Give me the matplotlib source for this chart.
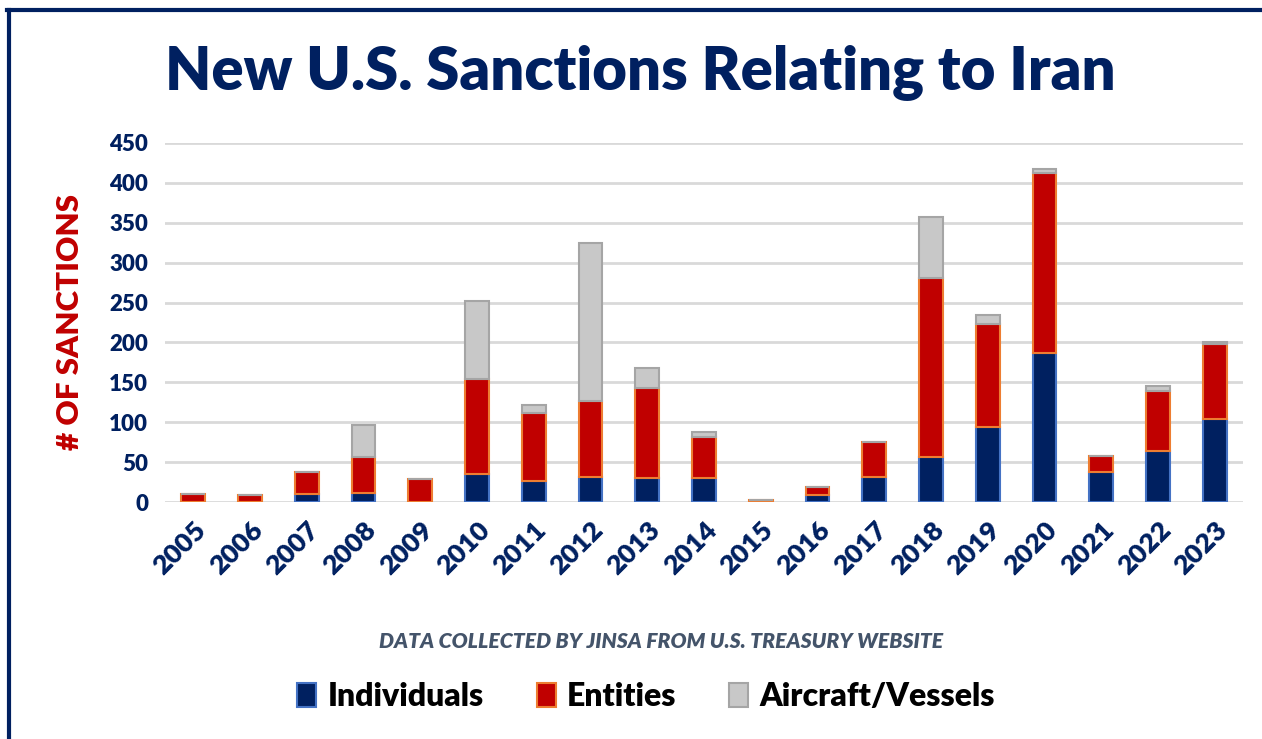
import matplotlib.pyplot as plt
from matplotlib.lines import Line2D
from matplotlib.patches import Patch
import numpy as np

years = ["2005", "2006", "2007", "2008", "2009", "2010", "2011", "2012", "2013", "2014",
         "2015", "2016", "2017", "2018", "2019", "2020", "2021", "2022", "2023"]
individuals = [0, 0, 10, 11, 0, 35, 26, 31, 30, 30, 0, 9, 31, 56, 94, 187, 38, 64, 104]
entities = [10, 9, 28, 45, 29, 119, 85, 96, 113, 51, 2, 10, 44, 225, 129, 226, 20, 75, 94]
aircraft = [0, 0, 0, 40, 0, 98, 11, 198, 25, 7, 0, 0, 0, 76, 12, 5, 0, 7, 3]

navy = "#002060"
red = "#C00000"
gray = "#C8C8C8"
heavy = "heavy"

plt.rcParams['font.family'] = ['Lato', 'DejaVu Sans']

fig = plt.figure(figsize=(12.62, 7.39), dpi=100)
ax = fig.add_axes([0.1307, 0.3207, 0.8543, 0.4858])

x = np.arange(len(years))
ind = np.array(individuals)
ent = np.array(entities)
air = np.array(aircraft)
w = 0.42

ax.bar(x, ind, w, color=navy, edgecolor="#4472C4", linewidth=1.5, zorder=3)
ax.bar(x, ent, w, bottom=ind, color=red, edgecolor="#ED7D31", linewidth=1.5, zorder=3)
ax.bar(x, air, w, bottom=ind + ent, color=gray, edgecolor="#A5A5A5", linewidth=1.5, zorder=3)

ax.set_xlim(-0.5, len(years) - 0.5)
ax.set_ylim(0, 450)
ax.set_yticks(range(0, 451, 50))
ax.set_xticks(x)
ax.set_xticklabels(years, rotation=45, ha="right", rotation_mode="anchor")
ax.tick_params(axis="both", length=0, labelcolor=navy)
ax.tick_params(axis="y", pad=12, labelsize=16)
ax.tick_params(axis="x", pad=11, labelsize=19.5)
for lab in ax.get_xticklabels() + ax.get_yticklabels():
    lab.set_fontweight(heavy)
ax.grid(axis="y", color="#D9D9D9", linewidth=2, zorder=0)
for s in ax.spines.values():
    s.set_visible(False)

ax.set_ylabel("# OF SANCTIONS", color=red, fontsize=22.5, fontweight=heavy, labelpad=18)

fig.text(0.507, 0.903, "New U.S. Sanctions Relating to Iran", ha="center", va="center",
         fontsize=43, fontweight=heavy, color=navy)
fig.text(0.524, 0.1326, "DATA COLLECTED BY JINSA FROM U.S. TREASURY WEBSITE", ha="center",
         va="center", fontsize=15.2, fontweight=heavy, style="italic", color="#44546A")

handles = [Patch(facecolor=navy, edgecolor="#4472C4", linewidth=1.5),
           Patch(facecolor=red, edgecolor="#ED7D31", linewidth=1.5),
           Patch(facecolor=gray, edgecolor="#A5A5A5", linewidth=1.5)]
fig.legend(handles, ["Individuals", "Entities", "Aircraft/Vessels"], loc="center",
           bbox_to_anchor=(0.512, 0.057), ncol=3, frameon=False,
           prop={"size": 23, "weight": heavy}, handlelength=0.6, handleheight=0.8,
           handletextpad=0.35, columnspacing=1.65)

# frame lines on left and top
fig.add_artist(Line2D([0.0071, 0.0071], [0, 0.986], color=navy, linewidth=3))
fig.add_artist(Line2D([0.0055, 1], [0.986, 0.986], color=navy, linewidth=3))

fig.savefig("out.png", dpi=100)
